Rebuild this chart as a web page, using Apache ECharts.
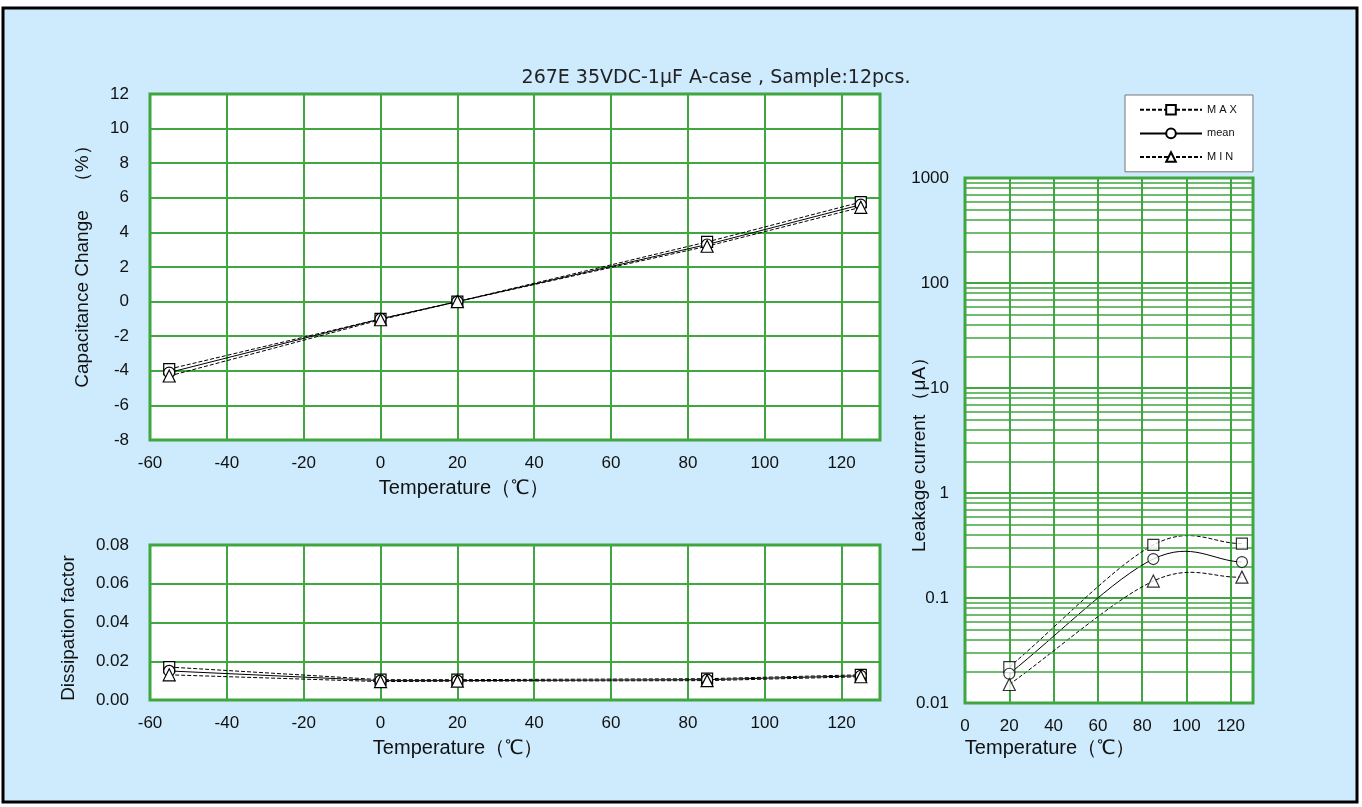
<!DOCTYPE html>
<html><head><meta charset="utf-8">
<script src="https://cdn.jsdelivr.net/npm/echarts@6/dist/echarts.min.js"></script>
<style>html,body{margin:0;padding:0;background:#fff}#c{width:1362px;height:807px}</style>
</head><body><div id="c"></div>
<script>
// ---- data ----
const temps = [-55, 0, 20, 85, 125];
const capMax  = [-3.9, -1.0, 0.0, 3.45, 5.75];
const capMean = [-4.1, -1.0, 0.0, 3.3, 5.6];
const capMin  = [-4.3, -1.05, 0.0, 3.2, 5.45];

const dfMax  = [0.017, 0.0105, 0.0105, 0.011, 0.013];
const dfMean = [0.015, 0.0100, 0.0100, 0.0105, 0.0125];
const dfMin  = [0.013, 0.0095, 0.0097, 0.0100, 0.0120];

const lcTemps = [20, 85, 125];
const lcMax  = [0.022, 0.32, 0.33];
const lcMean = [0.019, 0.235, 0.22];
const lcMin  = [0.015, 0.145, 0.158];

const seriesNames = ['M A X', 'mean', 'M I N'];
const titleText = '267E 35VDC-1\u03bcF A-case , Sample:12pcs.';

// ---- styling ----
const GREEN = '#3fa640';
const FONT = '"Liberation Sans", Arial, sans-serif';
const symbols = ['rect', 'circle', 'triangle'];
const dashed = [true, false, true];
const DASH = [4, 2];

function pair(xs, ys) { return xs.map((x, i) => [x, ys[i]]); }

function symbolStyle(k) {
  return { symbol: symbols[k], symbolSize: k === 2 ? 12 : 11,
    itemStyle: { color: '#fff', borderColor: '#000', borderWidth: 1.2 } };
}

function mk(k, xs, ys, gi) {
  return Object.assign({
    name: seriesNames[k], type: 'line', xAxisIndex: gi, yAxisIndex: gi,
    data: pair(xs, ys), smooth: false,
    lineStyle: { color: '#000', width: 1, type: dashed[k] ? DASH : 'solid' },
    z: 5
  }, symbolStyle(k));
}

// smoothed curve (Catmull-Rom / Bezier, like a spreadsheet "smoothed line") through data points,
// positioned by the chart's own axes via api.coord
function curve(k, xs, ys, gi) {
  return {
    name: 'curve' + k, type: 'custom', xAxisIndex: gi, yAxisIndex: gi,
    data: pair(xs, ys), z: 4, silent: true, clip: true,
    renderItem: function (params, api) {
      if (params.dataIndex !== 0) return null;
      const p = xs.map((x, i) => api.coord([x, ys[i]]));
      const n = p.length;
      const tan = p.map((pt, i) => {
        const a = p[Math.max(i - 1, 0)], b = p[Math.min(i + 1, n - 1)];
        const f = (i === 0 || i === n - 1) ? 1 : 0.5;
        return [(b[0] - a[0]) * f, (b[1] - a[1]) * f];
      });
      let d = 'M' + p[0][0] + ' ' + p[0][1];
      for (let i = 0; i < n - 1; i++) {
        const c1 = [p[i][0] + tan[i][0] / 3, p[i][1] + tan[i][1] / 3];
        const c2 = [p[i + 1][0] - tan[i + 1][0] / 3, p[i + 1][1] - tan[i + 1][1] / 3];
        d += ' C' + c1[0] + ' ' + c1[1] + ' ' + c2[0] + ' ' + c2[1] + ' ' + p[i + 1][0] + ' ' + p[i + 1][1];
      }
      return { type: 'path', shape: { pathData: d },
        style: { fill: 'none', stroke: '#000', lineWidth: 1, lineDash: dashed[k] ? DASH : null } };
    }
  };
}

function marks(k, xs, ys, gi) {
  return Object.assign({ name: 'marks' + k, type: 'scatter', xAxisIndex: gi, yAxisIndex: gi,
    data: pair(xs, ys), z: 6 }, symbolStyle(k));
}

const axisLabel = { color: '#111', fontSize: 17, fontFamily: FONT };
function xAx(gi, min, max, interval) {
  return { type: 'value', gridIndex: gi, min, max, interval,
    axisLine: { show: false }, axisTick: { show: false },
    axisLabel: Object.assign({ margin: 15, showMaxLabel: false }, axisLabel),
    splitLine: { show: true, lineStyle: { color: GREEN, width: 2 } } };
}

// minor log gridlines at 2..9 x 10^k
const minorVals = [];
for (let k = -2; k <= 2; k++) for (let m = 2; m <= 9; m++) minorVals.push(+(m * Math.pow(10, k)).toPrecision(3));

const gridStyle = { show: true, backgroundColor: '#fff', borderColor: GREEN, borderWidth: 3 };
const titleStyle = { fontSize: 19, fill: '#111', fontFamily: FONT, align: 'center', verticalAlign: 'middle' };
const tempStyle = Object.assign({}, titleStyle, { fontSize: 20 });

const chart = echarts.init(document.getElementById('c'));
chart.setOption({
  backgroundColor: '#fff',
  animation: false,
  textStyle: { fontFamily: FONT },
  grid: [
    Object.assign({ left: 150, top: 94, width: 730, height: 346 }, gridStyle),
    Object.assign({ left: 150, top: 545, width: 730, height: 155 }, gridStyle),
    Object.assign({ left: 965, top: 178, width: 288, height: 525 }, gridStyle)
  ],
  xAxis: [xAx(0, -60, 130, 20), xAx(1, -60, 130, 20), xAx(2, 0, 130, 20)],
  yAxis: [
    { type: 'value', gridIndex: 0, min: -8, max: 12, interval: 2,
      axisLine: { show: false }, axisTick: { show: false },
      axisLabel: Object.assign({ margin: 21 }, axisLabel),
      splitLine: { lineStyle: { color: GREEN, width: 2 } } },
    { type: 'value', gridIndex: 1, min: 0, max: 0.08, interval: 0.02,
      axisLine: { show: false }, axisTick: { show: false },
      axisLabel: Object.assign({ margin: 21, formatter: v => v.toFixed(2) }, axisLabel),
      splitLine: { lineStyle: { color: GREEN, width: 2 } } },
    { type: 'log', gridIndex: 2, logBase: 10, min: 0.01, max: 1000,
      axisLine: { show: false }, axisTick: { show: false },
      axisLabel: Object.assign({ margin: 16, formatter: v => String(+v.toPrecision(3)) }, axisLabel),
      splitLine: { lineStyle: { color: GREEN, width: 2 } } }
  ],
  legend: {
    data: seriesNames, orient: 'vertical', left: 1125, top: 95,
    backgroundColor: '#fff', borderColor: '#777', borderWidth: 1,
    padding: [9, 16, 9, 14], itemGap: 12, itemWidth: 62, itemHeight: 12,
    textStyle: { fontSize: 11, color: '#111', fontFamily: FONT }
  },
  graphic: [
    { type: 'rect', z: -10, shape: { x: 3, y: 8, width: 1354, height: 794 },
      style: { fill: '#cdebfd', stroke: '#000', lineWidth: 3 } },
    { type: 'text', x: 716, y: 78, style: { text: titleText, fontSize: 19, fill: '#222', fontFamily: '"DejaVu Sans", sans-serif', align: 'center', verticalAlign: 'middle' } },
    { type: 'text', x: 83, y: 262, rotation: Math.PI / 2, style: Object.assign({ text: 'Capacitance Change\u3000\uff08%\uff09' }, titleStyle) },
    { type: 'text', x: 464, y: 488, style: Object.assign({ text: 'Temperature\uff08\u2103\uff09' }, tempStyle) },
    { type: 'text', x: 69, y: 628, rotation: Math.PI / 2, style: Object.assign({ text: 'Dissipation factor' }, titleStyle) },
    { type: 'text', x: 458, y: 748, style: Object.assign({ text: 'Temperature\uff08\u2103\uff09' }, tempStyle) },
    { type: 'text', x: 920, y: 450, rotation: Math.PI / 2, style: Object.assign({ text: 'Leakage current \uff08\u03bcA\uff09' }, titleStyle) },
    { type: 'text', x: 1050, y: 748, style: Object.assign({ text: 'Temperature\uff08\u2103\uff09' }, tempStyle) }
  ],
  series: [
    mk(0, temps, capMax, 0), mk(1, temps, capMean, 0), mk(2, temps, capMin, 0),
    mk(0, temps, dfMax, 1), mk(1, temps, dfMean, 1), mk(2, temps, dfMin, 1),
    curve(0, lcTemps, lcMax, 2), curve(1, lcTemps, lcMean, 2), curve(2, lcTemps, lcMin, 2),
    marks(0, lcTemps, lcMax, 2), marks(1, lcTemps, lcMean, 2), marks(2, lcTemps, lcMin, 2),
    { name: 'minorgrid', type: 'line', xAxisIndex: 2, yAxisIndex: 2, data: [], z: 1, silent: true,
      markLine: { silent: true, symbol: 'none', label: { show: false }, animation: false,
        lineStyle: { color: GREEN, width: 1.5, type: 'solid' },
        data: minorVals.map(v => ({ yAxis: v })) } }
  ]
});
</script></body></html>
